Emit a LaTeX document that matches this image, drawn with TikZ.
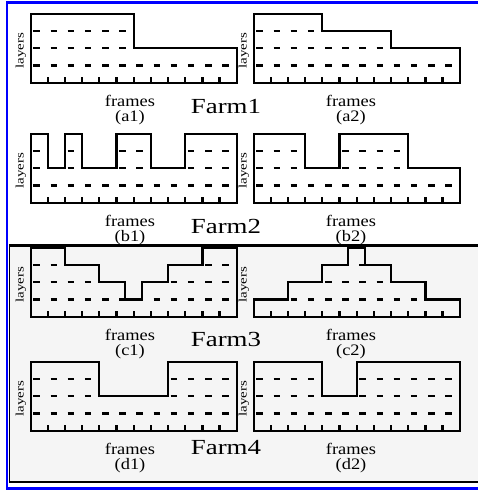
\documentclass[tikz,border=0pt]{standalone}
\usepackage{fontspec}
\setmainfont{Liberation Serif}
\definecolor{panelgray}{HTML}{F5F5F5}
\tikzset{
  gridline/.style={line width=2.2pt, line cap=rect},
  griddash/.style={line width=2.1pt, dash pattern=on 6.5pt off 10.67pt, dash phase=14.5pt},
  axislbl/.style={inner sep=0pt, align=center, font=\fontsize{16}{15.5}\selectfont},
  farmlbl/.style={inner sep=0pt, font=\fontsize{21.5}{21.5}\selectfont},
  layerlbl/.style={inner sep=0pt, rotate=90, font=\fontsize{11.5}{11.5}\selectfont},
}
\newcommand\farmgrid[3]{%
  \begin{scope}[shift={(#1,#2)}, x=17.17pt, y=17.17pt]
    \begin{scope}
      \clip #3;
      \foreach \k in {1,2,3} \draw[griddash] (0,\k) -- (12,\k);
    \end{scope}
    \foreach \i in {1,...,11} \draw[gridline, line cap=butt] (\i,0) -- (\i,0.35);
    \draw[gridline] #3;
  \end{scope}}
\newcommand\farmlabels[5]{% #1 name, #2 x0, #3 ybottom, #4 label x, #5 tag
  \node[layerlbl] (#1ly) at (#2-9.8,#3-32) {\scalebox{1.3}[1]{layers}};
  \node[axislbl] (#1fr) at (#4,#3+27.5) {\scalebox{1.15}[1]{frames}\\\scalebox{1.15}[1]{#5}};
}
\begin{document}
\begin{tikzpicture}[x=1pt,y=-1pt]
\useasboundingbox (0,0) rectangle (478,491);
\fill[white] (0,0) rectangle (478,491);
% lower panel
\fill[panelgray] (9,245) rectangle (478,482);
\draw[line width=2.6pt] (9,245.3) -- (478,245.3);
\draw[line width=2.6pt] (9,481.9) -- (478,481.9);
\draw[line width=1pt] (9.6,245) -- (9.6,482);
% blue frame
\fill[blue] (5.6,1) rectangle (478,4);
\fill[blue] (5.6,1) rectangle (8.3,490);
\fill[blue] (5.6,486.7) rectangle (478,490);
% row a
\farmgrid{30.7}{82.7}{(0,0) -- (12,0) -- (12,2) -- (6,2) -- (6,4) -- (0,4) -- cycle}
\farmgrid{253.7}{82.7}{(0,0) -- (12,0) -- (12,2) -- (8,2) -- (8,3) -- (4,3) -- (4,4) -- (0,4) -- cycle}
% row b
\farmgrid{30.7}{202.7}{(0,0) -- (12,0) -- (12,4) -- (9,4) -- (9,2) -- (7,2) -- (7,4) -- (5,4) -- (5,2) -- (3,2) -- (3,4) -- (2,4) -- (2,2) -- (1,2) -- (1,4) -- (0,4) -- cycle}
\farmgrid{253.7}{202.7}{(0,0) -- (12,0) -- (12,2) -- (9,2) -- (9,4) -- (5,4) -- (5,2) -- (3,2) -- (3,4) -- (0,4) -- cycle}
% row c
\farmgrid{30.7}{316.7}{(0,0) -- (12,0) -- (12,4) -- (10,4) -- (10,3) -- (8,3) -- (8,2) -- (6.5,2) -- (6.5,1) -- (5.5,1) -- (5.5,2) -- (4,2) -- (4,3) -- (2,3) -- (2,4) -- (0,4) -- cycle}
\farmgrid{253.7}{316.7}{(0,0) -- (12,0) -- (12,1) -- (10,1) -- (10,2) -- (8,2) -- (8,3) -- (6.5,3) -- (6.5,4) -- (5.5,4) -- (5.5,3) -- (4,3) -- (4,2) -- (2,2) -- (2,1) -- (0,1) -- cycle}
% row d
\farmgrid{30.7}{430.7}{(0,0) -- (12,0) -- (12,4) -- (8,4) -- (8,2) -- (4,2) -- (4,4) -- (0,4) -- cycle}
\farmgrid{253.7}{430.7}{(0,0) -- (12,0) -- (12,4) -- (6,4) -- (6,2) -- (4,2) -- (4,4) -- (0,4) -- cycle}
% labels
\farmlabels{a1}{30.7}{82.7}{130}{(a1)}
\farmlabels{a2}{253.7}{82.7}{351}{(a2)}
\farmlabels{b1}{30.7}{202.7}{130}{(b1)}
\farmlabels{b2}{253.7}{202.7}{351}{(b2)}
\farmlabels{c1}{30.7}{316.7}{130}{(c1)}
\farmlabels{c2}{253.7}{316.7}{351}{(c2)}
\farmlabels{d1}{30.7}{430.7}{130}{(d1)}
\farmlabels{d2}{253.7}{430.7}{351}{(d2)}
\node[farmlbl, anchor=base] (farm1) at (226,113.3) {\scalebox{1.25}[1]{Farm1}};
\node[farmlbl, anchor=base] (farm2) at (226,233.3) {\scalebox{1.25}[1]{Farm2}};
\node[farmlbl, anchor=base] (farm3) at (226,346) {\scalebox{1.25}[1]{Farm3}};
\node[farmlbl, anchor=base] (farm4) at (226,454) {\scalebox{1.25}[1]{Farm4}};
\end{tikzpicture}
\end{document}
